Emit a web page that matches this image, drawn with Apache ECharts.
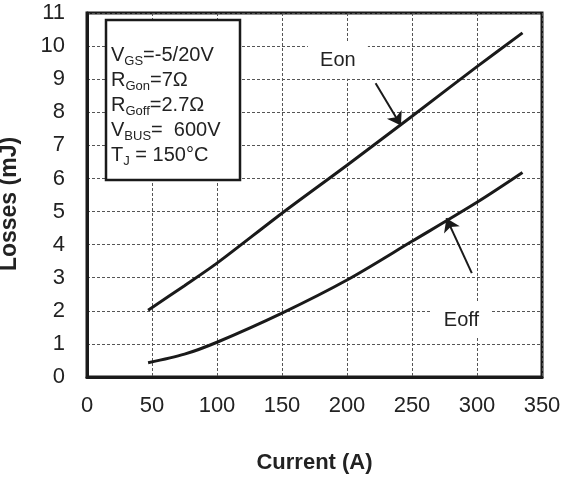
<!DOCTYPE html>
<html>
<head>
<meta charset="utf-8">
<script src="https://cdn.jsdelivr.net/npm/echarts@6/dist/echarts.min.js"></script>
<style>
  html, body { margin: 0; padding: 0; background: #fff; }
  #chart { width: 562px; height: 479px; }
</style>
</head>
<body>
<div id="chart"></div>
<script>
// values
var eonData = [[47, 2.02], [75, 2.76], [100, 3.44], [150, 4.95], [200, 6.4], [250, 7.88], [300, 9.38], [335, 10.4]];
var eoffData = [[47, 0.43], [75, 0.69], [100, 1.05], [150, 1.93], [200, 2.93], [250, 4.1], [300, 5.28], [335, 6.18]];
var eonArrow = [[222, 8.88], [241.5, 7.6]];
var eoffArrow = [[296, 3.14], [276.5, 4.8]];
var eonLabelAt = [193, 9.56];
var eoffLabelAt = [288, 1.72];

var font = 'Liberation Sans, Arial, sans-serif';
var ink = '#1a1a1a';

var myChart = echarts.init(document.getElementById('chart'));

function arrow(pts) {
    return [[{ coord: pts[0], symbol: 'none' }, { coord: pts[1], symbol: 'arrow' }]];
}

function tag(text, at) {
    return [{
        coord: at,
        symbol: 'rect',
        symbolSize: [60, 36],
        itemStyle: { color: '#fff' },
        label: { show: true, position: 'inside', formatter: text, color: '#222', fontSize: 20, fontFamily: font }
    }];
}

var option = {
    animation: false,
    backgroundColor: '#fff',
    grid: {
        left: 87, right: 20, top: 13, bottom: 102,
        outerBoundsMode: 'none',
        containLabel: false,
        show: true, borderColor: ink, borderWidth: 3
    },
    xAxis: {
        type: 'value', min: 0, max: 350, interval: 50,
        name: 'Current (A)', nameLocation: 'middle', nameGap: 75,
        nameTextStyle: { fontFamily: font, fontSize: 22, fontWeight: 'bold', color: '#222' },
        axisLine: { show: true, lineStyle: { color: ink, width: 3 } },
        axisTick: { show: false },
        axisLabel: { fontFamily: font, fontSize: 22, color: '#222', margin: 18 },
        splitLine: { show: true, lineStyle: { color: '#555', width: 1, type: [3, 2] } }
    },
    yAxis: {
        type: 'value', min: 0, max: 11, interval: 1,
        name: 'Losses (mJ)', nameLocation: 'middle', nameGap: 66,
        nameTextStyle: { fontFamily: font, fontSize: 23, fontWeight: 'bold', color: '#222', padding: [0, 18, 0, 0] },
        axisLine: { show: true, lineStyle: { color: ink, width: 3 } },
        axisTick: { show: false },
        axisLabel: { fontFamily: font, fontSize: 22, color: '#222', margin: 22 },
        splitLine: { show: true, lineStyle: { color: '#555', width: 1, type: [3, 2] } }
    },
    series: [
        {
            name: 'Eon', type: 'line', data: eonData, smooth: 0.3,
            showSymbol: false, lineStyle: { color: ink, width: 3 },
            markLine: {
                silent: true, symbolSize: 13, label: { show: false },
                lineStyle: { color: ink, width: 2, type: 'solid' },
                data: arrow(eonArrow)
            },
            markPoint: { silent: true, data: tag('Eon', eonLabelAt) }
        },
        {
            name: 'Eoff', type: 'line', data: eoffData, smooth: 0.3,
            showSymbol: false, lineStyle: { color: ink, width: 3 },
            markLine: {
                silent: true, symbolSize: 13, label: { show: false },
                lineStyle: { color: ink, width: 2, type: 'solid' },
                data: arrow(eoffArrow)
            },
            markPoint: { silent: true, data: tag('Eoff', eoffLabelAt) }
        }
    ],
    graphic: [
        {
            type: 'rect', z: 200,
            shape: { x: 106, y: 20, width: 134, height: 160 },
            style: { fill: '#fff', stroke: ink, lineWidth: 2.5 }
        },
        {
            type: 'text', z: 201,
            x: 111, y: 40,
            style: {
                text: '{a|V}{s|GS}{a|=-5/20V}\n{a|R}{s|Gon}{a|=7Ω}\n{a|R}{s|Goff}{a|=2.7Ω}\n{a|V}{s|BUS}{a|=  600V}\n{a|T}{s|J}{a| = 150°C}',
                fill: '#222',
                font: '20px ' + font,
                rich: {
                    a: { fontSize: 20, fontFamily: font, color: '#222', lineHeight: 25, verticalAlign: 'bottom' },
                    s: { fontSize: 13, fontFamily: font, color: '#222', lineHeight: 25, verticalAlign: 'bottom', padding: [0, 0, -3, 0] }
                }
            }
        }
    ]
};

option && myChart.setOption(option);
</script>
</body>
</html>
